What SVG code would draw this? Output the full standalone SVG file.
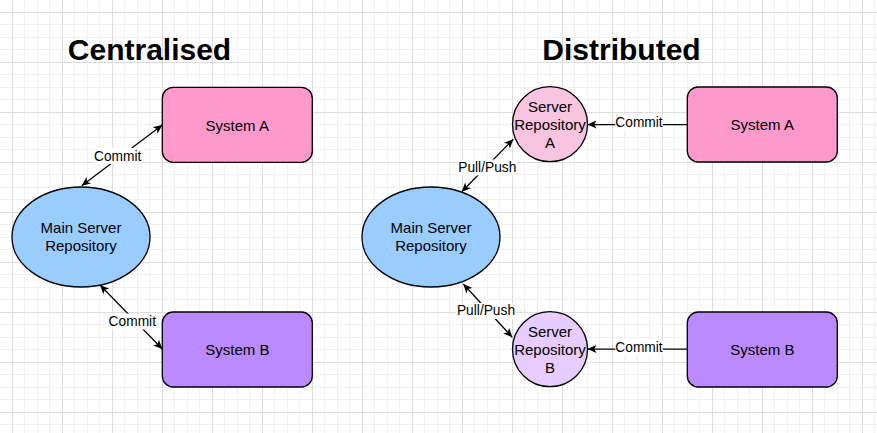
<svg xmlns="http://www.w3.org/2000/svg" width="877" height="433" viewBox="0 0 877 433">
  <defs>
    <pattern id="grid" x="12" y="12" width="50" height="50" patternUnits="userSpaceOnUse">
      <rect x="0" y="0" width="50" height="50" fill="#ffffff"/>
      <rect x="12" y="0" width="1" height="50" fill="#f1f1f1"/>
      <rect x="25" y="0" width="1" height="50" fill="#f1f1f1"/>
      <rect x="37" y="0" width="1" height="50" fill="#f1f1f1"/>
      <rect x="0" y="12" width="50" height="1" fill="#f1f1f1"/>
      <rect x="0" y="25" width="50" height="1" fill="#f1f1f1"/>
      <rect x="0" y="37" width="50" height="1" fill="#f1f1f1"/>
      <rect x="0" y="0" width="1" height="50" fill="#dddddd"/>
      <rect x="0" y="0" width="50" height="1" fill="#dddddd"/>
    </pattern>
    <marker id="arrow" viewBox="0 0 10 10" refX="10" refY="5" markerWidth="9" markerHeight="9" markerUnits="userSpaceOnUse" orient="auto-start-reverse">
      <path d="M0,0.5 L10,5 L0,9.5 L2.5,5 Z" fill="#000"/>
    </marker>
  </defs>
  <style>
    .shape { stroke: #000; stroke-width: 1.3; }
    .title { font-family: "Liberation Sans", Arial, sans-serif; font-size: 30px; font-weight: bold; fill: #000; text-anchor: middle; }
    .lbl { font-family: "Liberation Sans", Arial, sans-serif; font-size: 15px; fill: #000; text-anchor: middle; }
    .elbl { font-family: "Liberation Sans", Arial, sans-serif; font-size: 13.75px; fill: #000; text-anchor: middle; }
    .edge { stroke: #000; stroke-width: 1.25; fill: none; }
    .bg { fill: #ffffff; }
  </style>
  <rect x="0" y="0" width="877" height="433" fill="url(#grid)"/>

  <text class="title" x="149.5" y="60">Centralised</text>
  <text class="title" x="621.5" y="60">Distributed</text>

  <g id="connectors">
    <line class="edge" x1="81.7" y1="185.7" x2="162.3" y2="125" marker-start="url(#arrow)" marker-end="url(#arrow)"/>
    <rect class="bg" x="94" y="148" width="47.5" height="16"/>
    <text class="elbl" x="117.7" y="160.7">Commit</text>

    <line class="edge" x1="100" y1="285" x2="162.3" y2="349" marker-start="url(#arrow)" marker-end="url(#arrow)"/>
    <rect class="bg" x="108.5" y="313.5" width="47.5" height="16"/>
    <text class="elbl" x="132.3" y="326">Commit</text>

    <line class="edge" x1="461.7" y1="191.7" x2="513.3" y2="139.3" marker-start="url(#arrow)" marker-end="url(#arrow)"/>
    <rect class="bg" x="458" y="159.5" width="58.5" height="16"/>
    <text class="elbl" x="487.3" y="171.7">Pull/Push</text>

    <line class="edge" x1="463.3" y1="284" x2="512.3" y2="337.3" marker-start="url(#arrow)" marker-end="url(#arrow)"/>
    <rect class="bg" x="456.7" y="303" width="58.5" height="16"/>
    <text class="elbl" x="486" y="315">Pull/Push</text>

    <line class="edge" x1="687" y1="124.5" x2="587.5" y2="124.5" marker-end="url(#arrow)"/>
    <rect class="bg" x="615.3" y="115" width="47.5" height="15"/>
    <text class="elbl" x="639" y="126.7">Commit</text>

    <line class="edge" x1="687" y1="349" x2="587.5" y2="349" marker-end="url(#arrow)"/>
    <rect class="bg" x="615.3" y="340" width="47.5" height="15"/>
    <text class="elbl" x="639" y="351.7">Commit</text>
  </g>

  <g id="c-main">
    <ellipse class="shape" cx="81" cy="237" rx="69" ry="50" fill="#99CCFF"/>
    <text class="lbl" x="81" y="233.3">Main Server</text>
    <text class="lbl" x="81" y="251.3">Repository</text>
  </g>
  <g id="c-sysA">
    <rect class="shape" x="162.3" y="87.3" width="150" height="75" rx="11" fill="#FF99CC"/>
    <text class="lbl" x="237.3" y="130.5">System A</text>
  </g>
  <g id="c-sysB">
    <rect class="shape" x="162.3" y="312" width="150" height="75" rx="11" fill="#BB8AFF"/>
    <text class="lbl" x="237.3" y="355">System B</text>
  </g>

  <g id="d-main">
    <ellipse class="shape" cx="431" cy="237" rx="69" ry="50" fill="#99CCFF"/>
    <text class="lbl" x="431" y="233.3">Main Server</text>
    <text class="lbl" x="431" y="251.3">Repository</text>
  </g>
  <g id="d-repoA">
    <circle class="shape" cx="550" cy="124.2" r="37.5" fill="#F8C4DF"/>
    <text class="lbl" x="550" y="111.5">Server</text>
    <text class="lbl" x="550" y="129.5">Repository</text>
    <text class="lbl" x="550" y="147.5">A</text>
  </g>
  <g id="d-repoB">
    <circle class="shape" cx="550" cy="349.2" r="37.5" fill="#E6CCFF"/>
    <text class="lbl" x="550" y="336.5">Server</text>
    <text class="lbl" x="550" y="354.5">Repository</text>
    <text class="lbl" x="550" y="372.5">B</text>
  </g>
  <g id="d-sysA">
    <rect class="shape" x="687.3" y="87" width="150" height="75" rx="11" fill="#FF99CC"/>
    <text class="lbl" x="762.3" y="130.2">System A</text>
  </g>
  <g id="d-sysB">
    <rect class="shape" x="687.3" y="312" width="150" height="75" rx="11" fill="#BB8AFF"/>
    <text class="lbl" x="762.3" y="355">System B</text>
  </g>
</svg>
